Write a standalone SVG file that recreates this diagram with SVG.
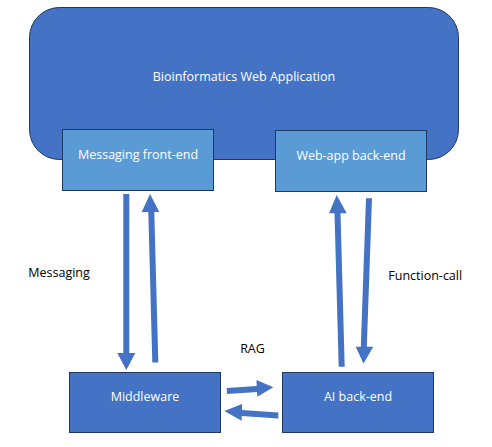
<svg xmlns="http://www.w3.org/2000/svg" width="492" height="447" viewBox="0 0 492 447">
<style>
.box{fill:#4472C4;stroke:#1F3864;stroke-width:1}
.sub{fill:#5B9BD5;stroke:#1F3864;stroke-width:1}
.wt{font-family:"Open Sans","Liberation Sans",sans-serif;font-size:12.5px;fill:#ffffff;text-anchor:middle}
.bt{font-family:"Open Sans","Liberation Sans",sans-serif;font-size:12.5px;fill:#000000}
.arr{fill:#4472C4}
</style>
<rect width="492" height="447" fill="#ffffff"/>
<g id="webapp">
<rect class="box" x="29.5" y="7.5" width="429" height="152" rx="30" ry="30"/>
<text class="wt" x="244" y="81">Bioinformatics Web Application</text>
</g>
<g id="messaging-frontend">
<rect class="sub" x="62.5" y="129.5" width="151" height="61"/>
<text class="wt" x="138" y="159">Messaging front-end</text>
</g>
<g id="webapp-backend">
<rect class="sub" x="275.5" y="130.5" width="151" height="61"/>
<text class="wt" x="351" y="160">Web-app back-end</text>
</g>
<g id="middleware">
<rect class="box" x="69.5" y="372.5" width="151" height="60"/>
<text class="wt" x="145" y="401">Middleware</text>
</g>
<g id="ai-backend">
<rect class="box" x="282.5" y="372.5" width="151" height="60"/>
<text class="wt" x="358" y="401">AI back-end</text>
</g>
<g id="connectors">
<polygon class="arr" points="123.3,194 129.3,194 129.3,353 135.3,353 126.3,370 117.3,353 123.3,353"/>
<polygon class="arr" points="150,194 159.3,212 154.3,212 158.3,362.5 152.3,362.5 148.3,212 141.7,212"/>
<polygon class="arr" points="336.7,195 346.7,213.3 340.5,213.3 344.7,366.7 338.7,366.7 334.5,213.3 329,213.3"/>
<polygon class="arr" points="366,198.3 372,198.3 366.8,346.7 373.3,346.7 363.5,363.5 355.7,346.7 360.8,346.7"/>
<polygon class="arr" points="226.7,388 256.7,385.9 256.5,380 273.3,387.3 257.3,396.7 257,391.9 227,394"/>
<polygon class="arr" points="278.3,412.5 278.3,418.5 241.7,416 241.7,420.7 224.3,411 242,404 242,410"/>
<text class="bt" x="252.5" y="353" text-anchor="middle">RAG</text>
<text class="bt" x="28.3" y="277">Messaging</text>
<text class="bt" x="388.3" y="280">Function-call</text>
</g>
</svg>
